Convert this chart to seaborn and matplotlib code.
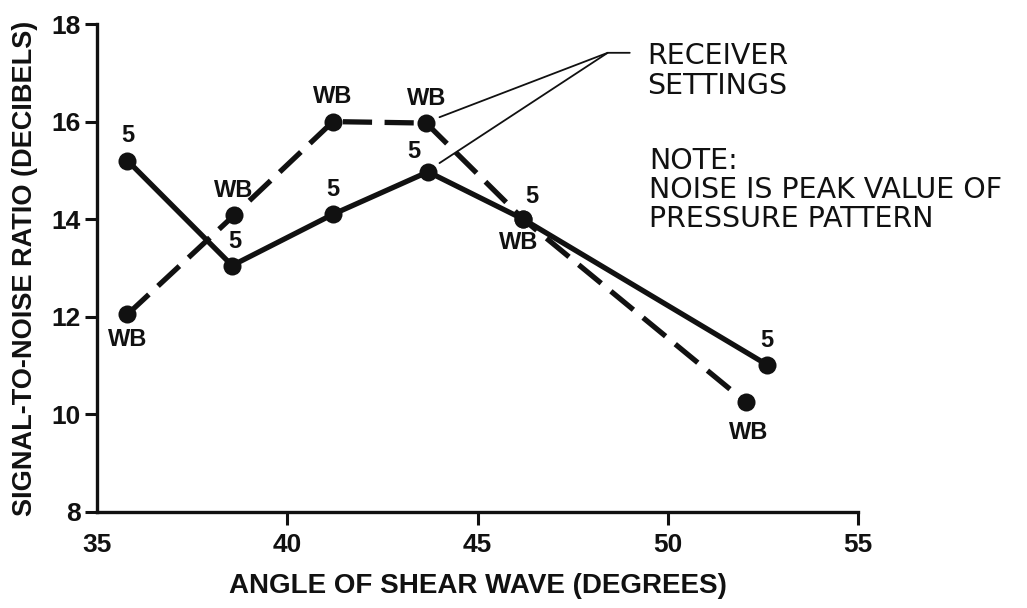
import matplotlib
matplotlib.use("Agg")
import matplotlib.pyplot as plt
import seaborn as sns
import pandas as pd

# ---- data ----
angle_5 = [35.8, 38.55, 41.2, 43.7, 46.2, 52.6]
snr_5 = [15.2, 13.05, 14.1, 14.97, 14.0, 11.02]
angle_wb = [35.8, 38.6, 41.2, 43.65, 46.2, 52.05]
snr_wb = [12.05, 14.08, 16.0, 15.97, 14.0, 10.25]
labels_5 = ["5"] * 6
labels_wb = ["WB"] * 6
x_ticks = [35, 40, 45, 50, 55]
y_ticks = [8, 10, 12, 14, 16, 18]

df = pd.concat([
    pd.DataFrame({"angle": angle_5, "snr": snr_5, "setting": "5"}),
    pd.DataFrame({"angle": angle_wb, "snr": snr_wb, "setting": "WB"}),
], ignore_index=True)

sns.set_style("ticks")
plt.rcParams["font.family"] = ["Liberation Sans", "DejaVu Sans"]
plt.rcParams["lines.scale_dashes"] = False

ink = "#111111"
fig = plt.figure(figsize=(10.27, 6.08), dpi=100)
ax = fig.add_axes([0.0945, 0.158, 0.741, 0.8025])

sns.lineplot(data=df, x="angle", y="snr", style="setting", sort=False,
             estimator=None, markers={"5": "o", "WB": "o"},
             dashes={"5": "", "WB": (21, 9)}, color=ink, linewidth=3.8,
             markersize=13, markeredgewidth=0, legend=False, ax=ax)

ax.set_xlim(35, 55)
ax.set_ylim(8, 18)
ax.set_xticks(x_ticks)
ax.set_yticks(y_ticks)
ax.tick_params(axis="both", length=9, width=2.2, color=ink,
               labelsize=19, labelcolor=ink)
ax.tick_params(axis="x", pad=6)
ax.tick_params(axis="y", pad=3)
for lab in ax.get_xticklabels() + ax.get_yticklabels():
    lab.set_fontweight("bold")
ax.xaxis.get_major_ticks()[0].tick1line.set_visible(False)
for s in ["top", "right"]:
    ax.spines[s].set_visible(False)
for s in ["left", "bottom"]:
    ax.spines[s].set_linewidth(2.4)
    ax.spines[s].set_color(ink)

ax.set_xlabel("ANGLE OF SHEAR WAVE (DEGREES)", fontsize=20,
              fontweight="bold", color=ink, labelpad=12)
ax.set_ylabel("SIGNAL-TO-NOISE RATIO (DECIBELS)", fontsize=19.5,
              fontweight="bold", color=ink)
ax.yaxis.set_label_coords(-0.077, 0.5)

# point labels (offset in points: dx, dy)
off_5 = [(0, 18), (2, 17), (0, 18), (-10, 15), (6, 16), (0, 17)]
off_wb = [(0, -18), (0, 18), (0, 18), (0, 18), (-3, -17), (2, -22)]
for x, y, t, (dx, dy) in zip(angle_5, snr_5, labels_5, off_5):
    ax.annotate(t, (x, y), xytext=(dx, dy), textcoords="offset points",
                ha="center", va="center", fontsize=17, fontweight="bold",
                color=ink)
for x, y, t, (dx, dy) in zip(angle_wb, snr_wb, labels_wb, off_wb):
    ax.annotate(t, (x, y), xytext=(dx, dy), textcoords="offset points",
                ha="center", va="center", fontsize=17, fontweight="bold",
                color=ink)

# leader lines to "RECEIVER SETTINGS"
ax.plot([44.0, 48.42, 49.0], [16.09, 17.41, 17.41], color=ink, lw=1.3,
        clip_on=False)
ax.plot([44.0, 48.42], [15.15, 17.41], color=ink, lw=1.3, clip_on=False)

ax.text(49.45, 17.03, "RECEIVER\nSETTINGS", fontsize=20.5, color=ink,
        family="DejaVu Sans", ha="left", va="center", linespacing=1.1,
        clip_on=False)
ax.text(49.5, 14.6, "NOTE:\nNOISE IS PEAK VALUE OF\nPRESSURE PATTERN",
        fontsize=20.5, color=ink, family="DejaVu Sans", ha="left",
        va="center", linespacing=1.04, clip_on=False)

fig.savefig("out.png", dpi=100, facecolor="white")
